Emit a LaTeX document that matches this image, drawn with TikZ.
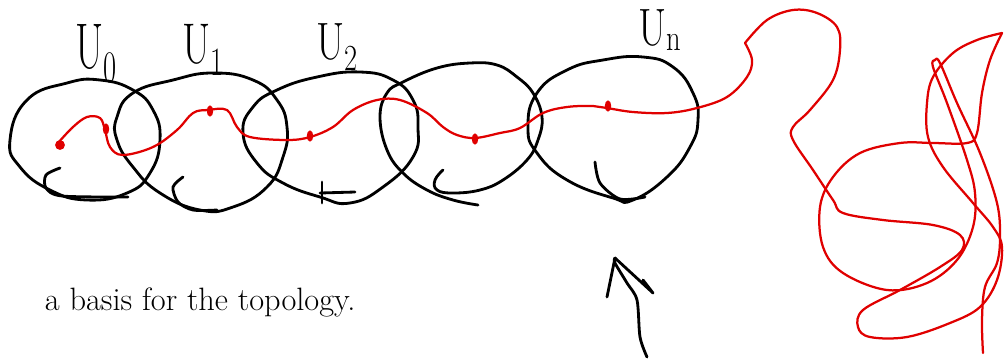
\documentclass[tikz,border=0pt]{standalone}
\usepackage{amsmath, amssymb}
\usepackage{tikz}
\usetikzlibrary{arrows.meta}

\begin{document}
\begin{tikzpicture}[x=0.025cm, y=-0.025cm,
    blob/.style={black, line width=2pt, line join=round, line cap=round},
    curl/.style={black, line width=2pt, line cap=round, line join=round},
    setlabel/.style={font=\fontsize{34}{34}\selectfont, inner sep=0pt},
    redpath/.style={red!88!black, line width=1.6pt, line cap=round, line join=round},
    reddot/.style={red!88!black, fill=red!88!black}]
    \useasboundingbox (0,0) rectangle (1006,358);

    % Draw the open sets
    \draw[blob] plot[smooth cycle, tension=0.8] coordinates {(10,140) (27,100) (67,83) (100,80) (133,90) (153,110) (160,140) (150,173) (127,193) (87,200) (50,190) (20,167)};
    \draw[blob] plot[smooth cycle, tension=0.8] coordinates {(117,117) (133,93) (173,80) (213,73) (253,80) (277,100) (287,127) (283,157) (267,187) (233,207) (200,210) (160,193) (133,167) (117,140)};
    \draw[blob] plot[smooth cycle, tension=0.8] coordinates {(243,133) (253,107) (277,90) (317,77) (360,72) (393,80) (413,100) (418,127) (413,157) (383,187) (350,203) (320,197) (283,183) (257,163)};
    \draw[blob] plot[smooth, tension=0.7] coordinates {(443,170) (435,180) (437,190) (453,193) (480,190) (503,180) (527,160) (538,140) (542,117) (533,93) (517,77) (497,65) (470,63) (437,68) (403,82) (387,93) (380,117) (387,150) (403,173) (427,190) (453,200) (478,205)};
    \draw[blob] plot[smooth cycle, tension=0.8] coordinates {(528,127) (537,93) (567,70) (603,60) (643,57) (673,67) (693,93) (698,120) (690,147) (667,177) (633,200) (613,198) (567,180) (537,153)};

    % Add the little curls at the bottom
    \draw[curl] plot[smooth] coordinates {(60,168) (46,175) (46,188) (62,196) (128,197)};
    \draw[curl] plot[smooth] coordinates {(183,177) (173,187) (178,202) (193,210) (217,210)};
    \draw[curl] (322,182) -- (322,203);
    \draw[curl] (320,193) -- (355,192);
    \draw[curl] plot[smooth] coordinates {(595,162) (600,183) (620,199) (645,197)};

    % Label the sets
    \node[setlabel] (u0) at (96,54) {\scalebox{0.85}[1.35]{U\textsubscript{0}}};
    \node[setlabel] (u1) at (203,50) {\scalebox{0.85}[1.2]{U\textsubscript{1}}};
    \node[setlabel] (u2) at (337,47) {\scalebox{0.85}[1.1]{U\textsubscript{2}}};
    \node[setlabel] (un) at (660,30) {\scalebox{0.85}[1.1]{U\textsubscript{n}}};

    % Draw the red path through the chain
    \draw[redpath] plot[smooth, tension=0.6] coordinates {(58,143) (73,127) (87,117) (100,118) (105,130) (110,147) (123,155) (153,147) (177,130) (193,113) (208,110) (227,110) (237,127) (250,137) (287,140) (310,137) (333,127) (353,110) (377,100) (400,100) (427,113) (443,127) (457,135) (475,138) (500,133) (520,128) (543,113) (567,107) (593,106) (607,108) (633,112) (667,113) (697,108) (727,97) (747,77) (752,60) (745,43)};
    \draw[redpath] plot[smooth, tension=0.6] coordinates {(745,43) (767,20) (793,10) (817,13) (837,27) (840,50) (833,80) (810,110) (793,127) (793,140) (813,170) (833,200) (843,213) (883,220) (933,225) (960,235) (962,250) (940,267) (900,290) (863,310) (858,327) (870,337) (907,337) (950,323) (980,307) (997,280) (1002,247) (993,227) (973,203) (943,167) (928,137) (927,103) (933,77) (953,53) (977,40) (1002,33)};
    \draw[redpath] plot[smooth, tension=0.6] coordinates {(1002,33) (990,60) (982,93) (977,133) (967,143) (933,143) (900,143) (860,153) (833,177) (820,207) (823,247) (843,273) (887,290) (927,283) (957,260) (973,227) (975,193) (967,160) (947,103) (933,67) (935,60) (940,63) (957,103) (980,153) (997,203) (1000,237) (997,263) (985,287) (982,320) (983,353)};

    % Mark the points on the path
    \fill[reddot] (60,145) circle (3.5pt);
    \foreach \x/\y in {106/129, 210/111, 310/136, 475/139, 608/106}
        \fill[reddot] (\x,\y) ellipse (2.3pt and 4pt);

    % Draw the hand arrow
    \coordinate (tail) at (647,357);
    \coordinate (tip) at (615,258);
    \draw[curl] plot[smooth] coordinates {(tail) (640,337) (637,300) (627,283) (615,263) (tip)};
    \draw[curl] (tip) -- (607,297);
    \draw[curl] (tip) -- (653,293) -- (643,280);

    % Write the caption
    \node[anchor=west] (caption) at (40,302) {\fontsize{23}{23}\selectfont a basis for the topology.};
\end{tikzpicture}
\end{document}
